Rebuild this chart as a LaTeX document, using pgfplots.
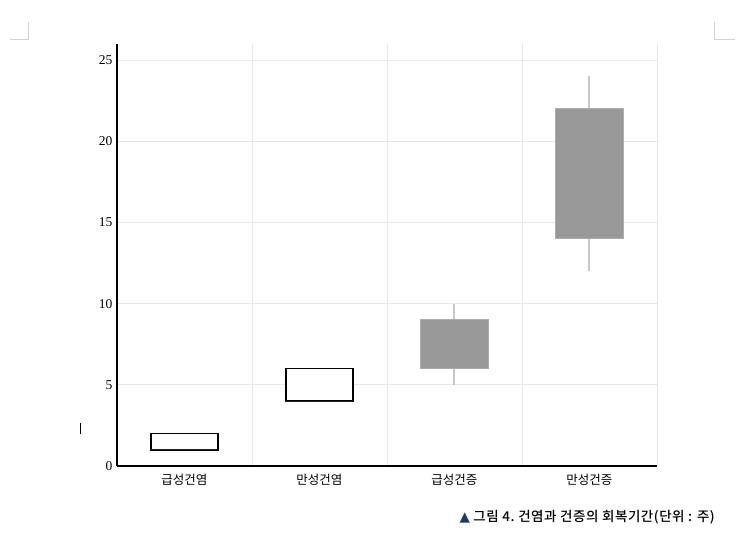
\documentclass[border=0pt]{standalone}
\usepackage{fontspec}
\setmainfont{Liberation Serif}
\newfontfamily\kr{Noto Sans CJK KR}
\newfontfamily\krcap[LetterSpace=4]{Noto Sans CJK KR Medium}
\newfontfamily\sym{DejaVu Sans}
\usepackage{pgfplots}
\pgfplotsset{compat=1.18}
\usepgfplotslibrary{statistics}
\definecolor{boxgray}{HTML}{999999}
\definecolor{whgray}{HTML}{C8C8C8}
\definecolor{gridgray}{HTML}{E8E8E8}
\definecolor{navy}{HTML}{1F3864}
\begin{document}
\begin{tikzpicture}[x=1pt,y=1pt]
\path[use as bounding box] (-117,-71) rectangle (623,466);
% page corner marks
\draw[color=gridgray!80!gray, line width=1pt] (-88,444) -- (-88,426) -- (-107,426);
\draw[color=gridgray!80!gray, line width=1pt] (597,444) -- (597,426) -- (618,426);
\draw[line width=0.8pt] (-37,32) -- (-37,43);
\begin{axis}[
  at={(0,0)}, anchor=south west,
  scale only axis, width=540pt, height=422pt,
  xmin=-0.5, xmax=3.5, ymin=0, ymax=26,
  axis x line*=bottom, axis y line*=left,
  axis line style={line width=1.3pt, -},
  xtick={0,1,2,3},
  xticklabels={급성건염,만성건염,급성건증,만성건증},
  xticklabel style={font=\kr\fontsize{12.5}{14}\selectfont, yshift=-5pt},
  minor xtick={-0.5,0.5,1.5,2.5,3.5},
  ytick={0,5,10,15,20,25},
  yticklabel style={font=\fontsize{13.5}{15}\selectfont, xshift=-1pt},
  /pgf/number format/assume math mode=true,
  major tick length=0pt, minor tick length=0pt,
  ymajorgrids, xminorgrids,
  grid style={draw=gridgray, line width=0.8pt},
  minor grid style={draw=gridgray, line width=0.8pt},
  boxplot/draw direction=y,
  boxplot/every median/.style={draw=none},
  clip=false,
]
\addplot[draw=black, fill=white, line width=1.6pt,
  boxplot/every box/.style={line width=1.6pt},
  boxplot prepared={lower whisker=1, lower quartile=1, median=1, upper quartile=2, upper whisker=2, draw position=0, box extend=0.5, whisker extend=0}]
  coordinates {};
\addplot[draw=black, fill=white, line width=1.6pt,
  boxplot/every box/.style={line width=1.6pt},
  boxplot prepared={lower whisker=4, lower quartile=4, median=4, upper quartile=6, upper whisker=6, draw position=1, box extend=0.5, whisker extend=0}]
  coordinates {};
\addplot[draw=boxgray!80!white, fill=boxgray, line width=1pt,
  boxplot/every whisker/.style={draw=whgray, line width=2pt},
  boxplot prepared={lower whisker=5, lower quartile=6, median=6, upper quartile=9, upper whisker=10, draw position=2, box extend=0.5, whisker extend=0}]
  coordinates {};
\addplot[draw=boxgray!80!white, fill=boxgray, line width=1pt,
  boxplot/every whisker/.style={draw=whgray, line width=2pt},
  boxplot prepared={lower whisker=12, lower quartile=14, median=14, upper quartile=22, upper whisker=24, draw position=3, box extend=0.5, whisker extend=0}]
  coordinates {};
\end{axis}
\node[anchor=east, inner sep=0pt, font=\krcap\fontsize{13.5}{15}\selectfont] at (598,-51)
  {{\sym\color{navy}▲}\ 그림 4.\ 건염과\ 건증의\ 회복기간(단위 : 주)};
\end{tikzpicture}
\end{document}
